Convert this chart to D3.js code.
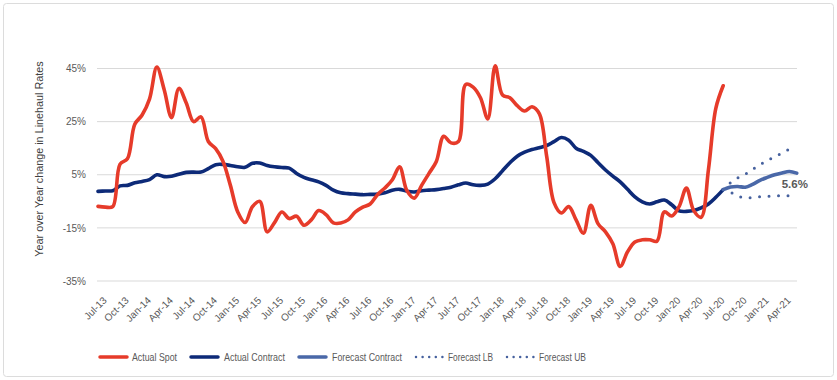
<!DOCTYPE html>
<html>
<head>
<meta charset="utf-8">
<script src="https://cdn.jsdelivr.net/npm/d3@7"></script>
<style>
  html, body { margin: 0; padding: 0; background: #fff; }
  svg { display: block; font-family: "Liberation Sans", Arial, sans-serif; }
</style>
</head>
<body>
<svg id="chart" width="837" height="380"></svg>
<script>
// Month index 0 = Jul-13
const tickLabels = ["Jul-13","Oct-13","Jan-14","Apr-14","Jul-14","Oct-14","Jan-15","Apr-15","Jul-15","Oct-15","Jan-16","Apr-16","Jul-16","Oct-16","Jan-17","Apr-17","Jul-17","Oct-17","Jan-18","Apr-18","Jul-18","Oct-18","Jan-19","Apr-19","Jul-19","Oct-19","Jan-20","Apr-20","Jul-20","Oct-20","Jan-21","Apr-21"];
const yTicks = [-35, -15, 5, 25, 45];

// Actual Spot, months 0..85
const actualSpot = [-6.9,-7.2,-7.0,9,11,24,27.5,33.5,45.5,37,26.5,37.5,32,25,26.8,17.5,14.8,10,1,-9,
  -13,-7,-5,-16.5,-13,-9,-11.5,-10.6,-14,-12,-8.5,-10,-13.1,-13.2,-12,-9,-7.2,-6,-2.5,0,
  3,8,-1,-3.8,1,5.5,10,19.5,17,17.5,39,38,34,26,46,35,34,31,29,30.6,
  28,12,-5.5,-9.4,-7,-12,-17,-6.5,-13.5,-16.5,-21,-29.5,-24,-20.3,-19.5,-19.5,-20,-9,-10.5,-7,
  0,-8.5,-11,7,30,38.5];

// Actual Contract, months 0..85
const actualContract = [-1.25,-1.1,-1,0.8,1,2,2.5,3.2,5,4.3,4.4,5.2,5.9,6,6,7.3,8.8,8.9,8.5,8,
  7.8,9.3,9.4,8.5,8,7.7,7.5,5.5,4,3.1,2.3,1,-0.8,-1.8,-2.1,-2.3,-2.5,-2.4,-2.3,-1.8,
  -0.8,-0.5,-1.2,-1.5,-1.0,-0.8,-0.6,-0.2,0.3,1.2,1.9,1.2,1.0,1.5,3.5,6.5,9.5,12,13.5,14.5,
  15.2,16,17.5,19,18,15,13.8,12.3,9.5,6.8,4.5,2.3,-0.5,-3.3,-5.2,-6,-5.2,-4.5,-6.3,-8.6,
  -8.8,-8.5,-7.5,-6,-3.5,-0.6];

// Forecasts, months 85..95
const forecastStart = 85;
const forecastContract = [-0.6,0.4,0.6,0.3,1.4,2.9,4.0,5.0,5.7,6.2,5.6];
const forecastUB = [-0.6,2.0,3.8,5.2,7.0,8.8,10.4,11.8,13.2,14.6,15.2];
const forecastLB = [-0.6,-1.6,-3.0,-3.7,-3.6,-3.3,-3.1,-3.0,-2.9,-2.9,-2.9];
const endLabel = "5.6%";

const legendItems = [
  {name: "Actual Spot", key: "spot"},
  {name: "Actual Contract", key: "contract"},
  {name: "Forecast Contract", key: "fcontract"},
  {name: "Forecast LB", key: "lb"},
  {name: "Forecast UB", key: "ub"}
];

const styles = {
  spot: {color: "#e63b2a", width: 3.6, dash: null},
  contract: {color: "#0d2a78", width: 3.6, dash: null},
  fcontract: {color: "#4a68a8", width: 3.6, dash: null},
  lb: {color: "#46619e", width: 3, dash: "0 9.5"},
  ub: {color: "#46619e", width: 3, dash: "0 9.5"}
};

const svg = d3.select("#chart");

// outer frame
svg.append("rect").attr("x", 3.5).attr("y", 3.5).attr("width", 830).attr("height", 373)
  .attr("rx", 3).attr("fill", "#fff").attr("stroke", "#dcdcdc").attr("stroke-width", 1);

const x = d3.scaleLinear().domain([0, 95]).range([98, 98 + 95 * 7.355]);
const y = d3.scaleLinear().domain([-35, 45]).range([281, 68.5]);

// gridlines
svg.append("g").selectAll("line").data(yTicks).join("line")
  .attr("x1", 97).attr("x2", 797)
  .attr("y1", d => y(d)).attr("y2", d => y(d))
  .attr("stroke", "#d9d9d9").attr("stroke-width", 1);

// y axis
const yAxis = svg.append("g").attr("transform", "translate(97,0)")
  .call(d3.axisLeft(y).tickValues(yTicks).tickSize(0).tickPadding(11).tickFormat(d => d + "%"));
yAxis.select(".domain").remove();
yAxis.selectAll("text").attr("fill", "#595959").attr("font-size", "10px")
  .attr("font-family", "Liberation Sans, Arial, sans-serif");

// y title
svg.append("text")
  .attr("transform", "translate(43,159) rotate(-90)")
  .attr("text-anchor", "middle")
  .attr("font-size", "10.8px").attr("fill", "#404040")
  .text("Year over Year change in Linehaul Rates");

// x axis
const xAxis = svg.append("g").attr("transform", "translate(0,281)")
  .call(d3.axisBottom(x).tickValues(tickLabels.map((d, i) => i * 3)).tickSize(0)
    .tickFormat((d, i) => tickLabels[i]));
xAxis.select(".domain").remove();
xAxis.selectAll("text")
  .attr("x", 0).attr("y", 0).attr("dy", "0.7em")
  .attr("transform", "translate(4,15) rotate(-45)")
  .attr("text-anchor", "end")
  .attr("fill", "#595959").attr("font-size", "10px")
  .attr("font-family", "Liberation Sans, Arial, sans-serif");

const line = d3.line().x(d => x(d[0])).y(d => y(d[1])).curve(d3.curveCatmullRom.alpha(0.5));

function drawSeries(values, start, key) {
  const st = styles[key];
  const pts = values.map((v, i) => [start + i, v]);
  const p = svg.append("path").datum(pts)
    .attr("d", line)
    .attr("fill", "none")
    .attr("stroke", st.color)
    .attr("stroke-width", st.width)
    .attr("stroke-linejoin", "round")
    .attr("stroke-linecap", "round");
  if (st.dash) p.attr("stroke-dasharray", st.dash);
}

drawSeries(forecastUB, forecastStart, "ub");
drawSeries(forecastLB, forecastStart, "lb");
drawSeries(actualContract, 0, "contract");
drawSeries(forecastContract, forecastStart, "fcontract");
drawSeries(actualSpot, 0, "spot");

// end label
svg.append("text")
  .attr("x", x(forecastStart + forecastContract.length - 1) - 15)
  .attr("y", y(forecastContract[forecastContract.length - 1]) + 15)
  .attr("font-size", "11.5px").attr("font-weight", "bold").attr("fill", "#595959")
  .text(endLabel);

// legend
const legendPos = [
  {lx: 100, tx: 132, tw: 45},
  {lx: 191, tx: 224, tw: 61},
  {lx: 299, tx: 332, tw: 70},
  {lx: 416, tx: 448, tw: 45},
  {lx: 507, tx: 539, tw: 47}
];
const ly = 357;
const lg = svg.append("g");
legendItems.forEach((it, i) => {
  const st = styles[it.key];
  const pos = legendPos[i];
  const l = lg.append("line")
    .attr("x1", pos.lx).attr("x2", pos.lx + 27)
    .attr("y1", ly).attr("y2", ly)
    .attr("stroke", st.color)
    .attr("stroke-linecap", "round");
  if (st.dash) l.attr("stroke-width", 2.5).attr("stroke-dasharray", "0 6.6");
  else l.attr("stroke-width", 3.5);
  lg.append("text").attr("x", pos.tx).attr("y", ly + 3.5)
    .attr("font-size", "10.5px").attr("fill", "#595959")
    .attr("textLength", pos.tw).attr("lengthAdjust", "spacingAndGlyphs")
    .text(it.name);
});
</script>
</body>
</html>
